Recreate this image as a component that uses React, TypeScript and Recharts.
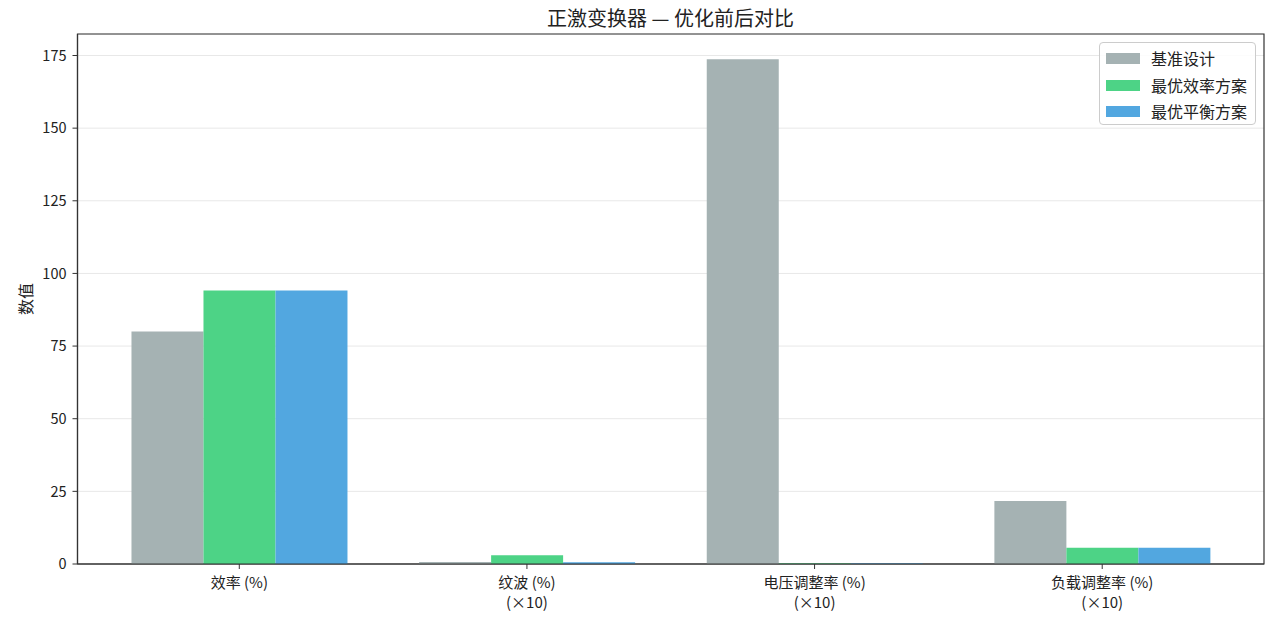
import React from 'react';
import { BarChart, Bar, XAxis, YAxis, CartesianGrid, Legend, Label, ReferenceArea } from 'recharts';

const categories = ['效率 (%)', '纹波 (%)\n(×10)', '电压调整率 (%)\n(×10)', '负载调整率 (%)\n(×10)'];
const baselineValues = [80.0, 0.7, 173.7, 21.7];
const bestEfficiencyValues = [94.1, 3.0, 0.3, 5.6];
const bestBalanceValues = [94.1, 0.6, 0.3, 5.6];
const seriesNames = ['基准设计', '最优效率方案', '最优平衡方案'];
const seriesColors = ['#a5b2b3', '#4dd386', '#52a7e0'];
const yTicks = [0, 25, 50, 75, 100, 125, 150, 175];
const xTicks = [0, 1, 2, 3];
const yMax = 182.4;
const xDomain = [-0.5625, 3.5625];
const title = '正激变换器 — 优化前后对比';
const yLabel = '数值';

const data = categories.map((c, i) => ({
  idx: i,
  name: c,
  base: baselineValues[i],
  eff: bestEfficiencyValues[i],
  bal: bestBalanceValues[i],
}));

const FONT = '"Noto Sans CJK SC", "Noto Sans", sans-serif';

const XTick = (props: any) => {
  const { x, y, payload } = props;
  const label = categories[Math.round(Number(payload.value))] ?? '';
  const lines = label.split('\n');
  return (
    <g transform={`translate(${x},${y})`}>
      {lines.map((l, i) => (
        <text key={i} x={0} y={17 + i * 20} textAnchor="middle" fontSize={15} fill="#222" fontFamily={FONT}>
          {l}
        </text>
      ))}
    </g>
  );
};

const LegendBox = () => (
  <div
    style={{
      width: 157,
      height: 83,
      boxSizing: 'border-box',
      border: '1px solid #cccccc',
      borderRadius: 4,
      background: 'rgba(255,255,255,0.85)',
      position: 'relative',
      fontFamily: FONT,
    }}
  >
    {seriesNames.map((n, i) => (
      <div key={n} style={{ position: 'absolute', left: 0, top: 2 + i * 26.5, height: 26, width: '100%' }}>
        <div
          style={{
            position: 'absolute',
            left: 6,
            top: 8,
            width: 34,
            height: 11,
            background: seriesColors[i],
          }}
        />
        <div
          style={{
            position: 'absolute',
            left: 51,
            top: 0,
            lineHeight: '26px',
            fontSize: 16,
            color: '#222',
            whiteSpace: 'nowrap',
          }}
        >
          {n}
        </div>
      </div>
    ))}
  </div>
);

export default function App() {
  return (
    <div style={{ position: 'absolute', left: 0, top: 0, width: 1280, height: 619, background: '#fff' }}>
      <div
        style={{
          position: 'absolute',
          left: 77,
          width: 1187,
          top: 4,
          textAlign: 'center',
          fontSize: 20,
          lineHeight: '28px',
          fontFamily: FONT,
          color: '#222',
        }}
      >
        {title}
      </div>
      <BarChart
        width={1280}
        height={619}
        data={data}
        margin={{ top: 34, right: 16, bottom: 0, left: 0 }}
        barGap={0}
        barSize={72}
      >
        <CartesianGrid horizontal vertical={false} stroke="#e8e8e8" strokeWidth={1} />
        <XAxis
          dataKey="idx"
          type="number"
          domain={xDomain}
          ticks={xTicks}
          interval={0}
          allowDataOverflow
          height={55}
          tickSize={5}
          tickMargin={2}
          tick={<XTick />}
          axisLine={{ stroke: '#333', strokeWidth: 1.2 }}
          tickLine={{ stroke: '#333' }}
        />
        <YAxis
          width={77.5}
          domain={[0, yMax]}
          ticks={yTicks}
          tickSize={5}
          tickMargin={6}
          allowDataOverflow
          axisLine={{ stroke: '#333', strokeWidth: 1.2 }}
          tickLine={{ stroke: '#333' }}
          tick={{ fontSize: 14.5, fill: '#222', fontFamily: FONT }}
        >
          <Label
            content={() => (
              <text
                x={25}
                y={299}
                transform="rotate(-90, 25, 299)"
                textAnchor="middle"
                dominantBaseline="central"
                fontSize={16}
                fill="#222"
                fontFamily={FONT}
              >
                {yLabel}
              </text>
            )}
          />
        </YAxis>
        <Legend
          layout="vertical"
          align="center"
          verticalAlign="middle"
          wrapperStyle={{ left: 1099, top: 42, width: 157, height: 83 }}
          content={<LegendBox />}
        />
        <Bar dataKey="base" name={seriesNames[0]} fill={seriesColors[0]} isAnimationActive={false} />
        <Bar dataKey="eff" name={seriesNames[1]} fill={seriesColors[1]} isAnimationActive={false} />
        <Bar dataKey="bal" name={seriesNames[2]} fill={seriesColors[2]} isAnimationActive={false} />
        <ReferenceArea
          x1={xDomain[0]}
          x2={xDomain[1]}
          y1={0}
          y2={yMax}
          fill="none"
          fillOpacity={0}
          stroke="#333"
          strokeWidth={1.2}
          ifOverflow="visible"
        />
      </BarChart>
    </div>
  );
}
